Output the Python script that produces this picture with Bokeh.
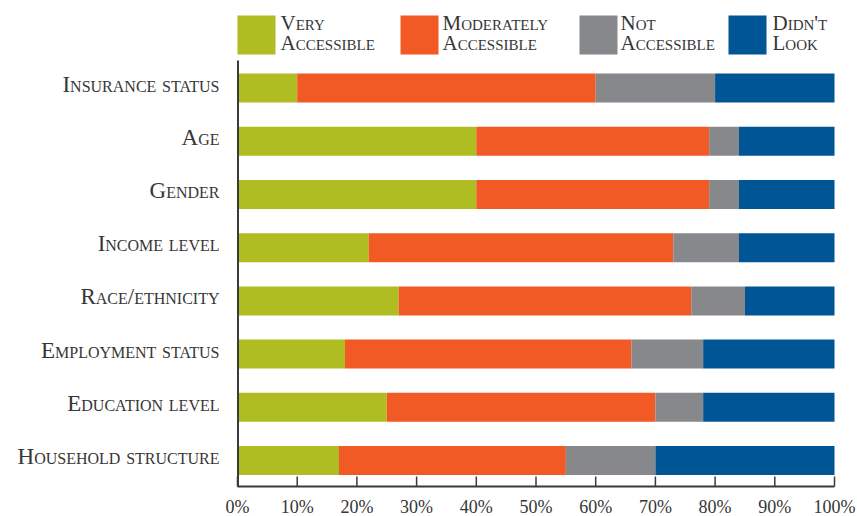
from bokeh.plotting import figure
from bokeh.layouts import row
from bokeh.models import ColumnDataSource, Range1d
from bokeh.core.properties import value
from bokeh.embed import file_html
from bokeh.resources import INLINE

# Share of respondents (%) per demographic question, bottom row first
categories = ["Household structure", "Education level", "Employment status",
              "Race/ethnicity", "Income level", "Gender", "Age", "Insurance status"]
very_accessible = [17, 25, 18, 27, 22, 40, 40, 10]
moderately_accessible = [38, 45, 48, 49, 51, 39, 39, 50]
not_accessible = [15, 8, 12, 9, 11, 5, 5, 20]
didnt_look = [30, 22, 22, 15, 16, 16, 16, 20]

series = ["very", "moderately", "not_acc", "didnt"]
series_line1 = ["Very", "Moderately", "Not", "Didn't"]
series_line2 = ["Accessible", "Accessible", "Accessible", "Look"]
colors = ["#AFBC22", "#F15A24", "#87888B", "#005595"]
x_ticks = [0, 10, 20, 30, 40, 50, 60, 70, 80, 90, 100]
x_tick_labels = ["0%", "10%", "20%", "30%", "40%", "50%",
                 "60%", "70%", "80%", "90%", "100%"]

FONT = value("Liberation Serif")
INK = "#363636"
RULE = "#3a3a3a"

W, H = 857, 516
SPLIT = 225               # width of the row-label panel
PLOT_LEFT, PLOT_RIGHT, PLOT_TOP, PLOT_BOTTOM = 237, 834, 60, 486
PX_PER_PCT = (PLOT_RIGHT - PLOT_LEFT) / 100
ROW_PITCH = 53.2          # px between category rows
ROW0_CENTER = 460         # px, centre of the bottom row

source = ColumnDataSource(dict(
    y=list(range(len(categories))),
    label=categories,
    very=very_accessible,
    moderately=moderately_accessible,
    not_acc=not_accessible,
    didnt=didnt_look,
))

y_rows = Range1d(-(H - ROW0_CENTER) / ROW_PITCH, ROW0_CENTER / ROW_PITCH)


def bare_figure(width, x_range, x_px):
    f = figure(width=width, height=H, x_range=x_range, y_range=y_rows,
               output_backend="svg", toolbar_location=None,
               min_border=0, x_axis_type=None, y_axis_type=None)
    f.extra_x_ranges = {"px": x_px}
    f.extra_y_ranges = {"px": Range1d(H, 0)}
    f.xgrid.visible = False
    f.ygrid.visible = False
    f.outline_line_color = None
    return f


# --- row labels: small capitals, right edge 18px left of the rule -----------
labels = bare_figure(SPLIT, Range1d(0, SPLIT), Range1d(0, SPLIT))
labels.text(x=PLOT_LEFT - 18, y="y", text="label", source=source,
            x_range_name="px", text_font=FONT, text_font_size="23px",
            text_color=INK, text_align="left", text_baseline="alphabetic",
            y_offset=-4)
# right-to-left base direction makes each label end at its anchor
labels.styles = {"font-variant": "small-caps", "direction": "rtl"}

# --- bars, scale and legend --------------------------------------------------
p = bare_figure(W - SPLIT,
                Range1d(-(PLOT_LEFT - SPLIT) / PX_PER_PCT, (W - PLOT_LEFT) / PX_PER_PCT),
                Range1d(SPLIT, W))

p.hbar_stack(series, y="y", height=0.545, color=colors, line_color=None,
             source=source)

# left rule spanning the bar area only
p.segment(x0=[PLOT_LEFT + 0.5], y0=[PLOT_BOTTOM], x1=[PLOT_LEFT + 0.5], y1=[PLOT_TOP],
          x_range_name="px", y_range_name="px",
          line_color=RULE, line_width=2)

# percentage scale: base rule, inward ticks and labels
p.segment(x0=[0], x1=[100], y0=[PLOT_BOTTOM], y1=[PLOT_BOTTOM], y_range_name="px",
          line_color=RULE, line_width=2)
scale_src = ColumnDataSource(dict(x=x_ticks, label=x_tick_labels))
p.segment(x0="x", x1="x", y0=PLOT_BOTTOM, y1=PLOT_BOTTOM - 10, source=scale_src,
          y_range_name="px", line_color=RULE, line_width=1.5)
p.text(x="x", y=506.5, text="label", source=scale_src, y_range_name="px",
       text_font=FONT, text_font_size="18px", text_color=INK,
       text_align="center", text_baseline="alphabetic")

# legend swatches and two-line labels
box_left = [237, 400, 579, 728]
legend_src = ColumnDataSource(dict(
    left=box_left,
    right=[b + 38 for b in box_left],
    tx=[280, 442, 620, 772],
    l1=series_line1,
    l2=series_line2,
    color=colors,
))
p.quad(left="left", right="right", top=15, bottom=54, color="color",
       line_color=None, source=legend_src, x_range_name="px", y_range_name="px")
for col, base in (("l1", 22.5), ("l2", 42.5)):
    p.text(x="tx", y=base, text=col, source=legend_src,
           x_range_name="px", y_range_name="px",
           text_font=FONT, text_font_size="21px", text_color=INK,
           text_align="left", text_baseline="alphabetic")
p.styles = {"font-variant": "small-caps"}

layout = row(labels, p, spacing=0)
open("out.html", "w").write(file_html(layout, INLINE))
